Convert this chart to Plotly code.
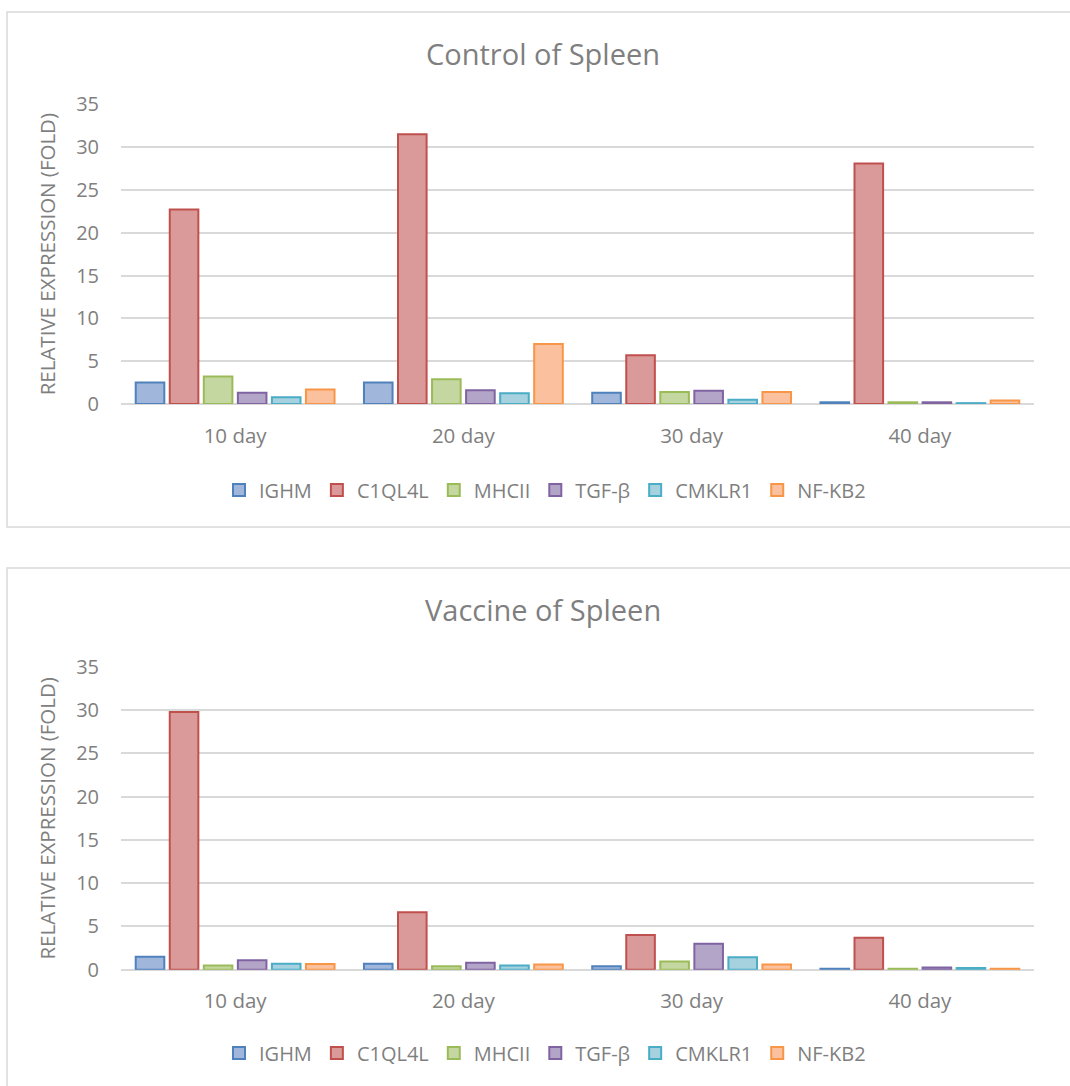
import plotly.graph_objects as go

# Sampling days (categories on the x axis)
days = ["10 day", "20 day", "30 day", "40 day"]

# Genes measured, in legend order
genes = ["IGHM", "C1QL4L", "MHCII", "TGF-β", "CMKLR1", "NF-KB2"]

# Relative expression (fold) per gene, control group
control_ighm = [2.5, 2.5, 1.3, 0.2]
control_c1ql4l = [22.7, 31.5, 5.7, 28.1]
control_mhcii = [3.2, 2.9, 1.4, 0.2]
control_tgfb = [1.3, 1.6, 1.55, 0.2]
control_cmklr1 = [0.8, 1.25, 0.5, 0.1]
control_nfkb2 = [1.7, 7.0, 1.4, 0.4]

# Relative expression (fold) per gene, vaccine group
vaccine_ighm = [1.5, 0.7, 0.4, 0.1]
vaccine_c1ql4l = [29.8, 6.65, 4.0, 3.7]
vaccine_mhcii = [0.5, 0.4, 0.95, 0.1]
vaccine_tgfb = [1.1, 0.8, 3.0, 0.25]
vaccine_cmklr1 = [0.7, 0.5, 1.45, 0.2]
vaccine_nfkb2 = [0.65, 0.6, 0.6, 0.1]

y_ticks = [0, 5, 10, 15, 20, 25, 30, 35]

control = [control_ighm, control_c1ql4l, control_mhcii,
           control_tgfb, control_cmklr1, control_nfkb2]
vaccine = [vaccine_ighm, vaccine_c1ql4l, vaccine_mhcii,
           vaccine_tgfb, vaccine_cmklr1, vaccine_nfkb2]

fills = ["#A0B6DA", "#D99A99", "#C4D7A0", "#B3A5C8", "#A6D2E0", "#FBC19E"]
edges = ["#4F81BD", "#C0504D", "#9BBB59", "#8064A2", "#4BACC6", "#F79646"]

W, H = 1070, 1086
TXT = "#7F7F7F"
GRID = "#D9D9D9"
FONT = "Open Sans"


def px_x(x):
    return x / W


def px_y(y):
    return 1 - y / H


fig = go.Figure()

for i, g in enumerate(genes):
    fig.add_trace(go.Bar(
        x=days, y=control[i], name=g, legend="legend",
        marker=dict(color=fills[i], line=dict(color=edges[i], width=2)),
        xaxis="x", yaxis="y",
    ))
for i, g in enumerate(genes):
    fig.add_trace(go.Bar(
        x=days, y=vaccine[i], name=g, legend="legend2",
        marker=dict(color=fills[i], line=dict(color=edges[i], width=2)),
        xaxis="x2", yaxis="y2",
    ))

xdom = [px_x(121), px_x(1034)]
axis_common_x = dict(
    domain=xdom, showgrid=False, showline=False, zeroline=False,
    ticks="", tickfont=dict(family=FONT, size=20.5, color=TXT),
    ticklabelstandoff=17, automargin=False,
)
axis_common_y = dict(
    range=[0, 35], tickvals=y_ticks, showgrid=True, gridcolor=GRID,
    gridwidth=1.5, zeroline=True, zerolinecolor=GRID, zerolinewidth=1.5,
    showline=False, ticks="", automargin=False,
    tickfont=dict(family=FONT, size=20, color=TXT),
    ticklabelstandoff=21,
    title=dict(text="RELATIVE EXPRESSION (FOLD)", standoff=14,
               font=dict(family=FONT, size=20.5, color=TXT)),
)

legend_common = dict(
    orientation="h", xanchor="center", yanchor="middle",
    font=dict(family=FONT, size=20, color=TXT),
    bgcolor="rgba(0,0,0,0)", itemwidth=30, itemclick=False,
)

fig.update_layout(
    template="none",
    width=W, height=H,
    margin=dict(l=0, r=0, t=0, b=0, autoexpand=False),
    paper_bgcolor="white", plot_bgcolor="white",
    barmode="group", bargap=0.105, bargroupgap=0.16,
    xaxis=dict(anchor="y", **axis_common_x),
    yaxis=dict(anchor="x", domain=[px_y(404), px_y(104.3)], **axis_common_y),
    xaxis2=dict(anchor="y2", **axis_common_x),
    yaxis2=dict(anchor="x2", domain=[px_y(969.7), px_y(667)], **axis_common_y),
    legend=dict(x=px_x(545), y=px_y(490), **legend_common),
    legend2=dict(x=px_x(545), y=px_y(1053), **legend_common),
    annotations=[
        dict(text="Control of Spleen", x=px_x(543), y=px_y(53),
             xref="paper", yref="paper", showarrow=False,
             xanchor="center", yanchor="middle",
             font=dict(family=FONT, size=29, color=TXT)),
        dict(text="Vaccine of Spleen", x=px_x(543), y=px_y(609),
             xref="paper", yref="paper", showarrow=False,
             xanchor="center", yanchor="middle",
             font=dict(family=FONT, size=29, color=TXT)),
    ],
    shapes=[
        dict(type="rect", xref="paper", yref="paper",
             x0=px_x(7), x1=px_x(1075), y0=px_y(527), y1=px_y(12),
             line=dict(color=GRID, width=1.5), fillcolor="rgba(0,0,0,0)",
             layer="below"),
        dict(type="rect", xref="paper", yref="paper",
             x0=px_x(7), x1=px_x(1075), y0=px_y(1095), y1=px_y(568),
             line=dict(color=GRID, width=1.5), fillcolor="rgba(0,0,0,0)",
             layer="below"),
    ],
    showlegend=True,
)

fig.write_html("out.html")
